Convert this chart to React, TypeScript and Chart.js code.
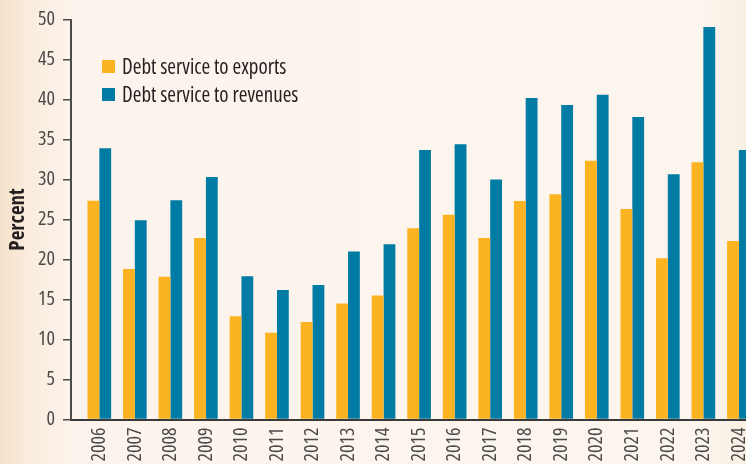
import React, { useEffect, useRef } from "react";
import { Chart, registerables } from "chart.js";

Chart.register(...registerables);

const years = [2006, 2007, 2008, 2009, 2010, 2011, 2012, 2013, 2014, 2015, 2016, 2017, 2018, 2019, 2020, 2021, 2022, 2023, 2024];
const toExports = [27.35, 18.8, 17.85, 22.7, 12.9, 10.85, 12.2, 14.5, 15.5, 23.9, 25.6, 22.7, 27.3, 28.15, 32.35, 26.3, 20.15, 32.15, 22.3];
const toRevenues = [33.9, 24.9, 27.4, 30.3, 17.9, 16.2, 16.8, 21.0, 21.9, 33.7, 34.4, 30.0, 40.2, 39.3, 40.6, 37.8, 30.65, 49.05, 33.7];
const seriesNames = ["Debt service to exports", "Debt service to revenues"];
const yTicks = [0, 5, 10, 15, 20, 25, 30, 35, 40, 45, 50];

const ORANGE = "#fbb321";
const BLUE = "#007ba3";
const FONT = "'Open Sans', 'DejaVu Sans Condensed', sans-serif";

export default function App() {
  const ref = useRef<HTMLCanvasElement | null>(null);

  useEffect(() => {
    if (!ref.current) return;
    const chart = new Chart(ref.current, {
      type: "bar",
      data: {
        datasets: [
          {
            label: seriesNames[0],
            data: years.map((x, i) => ({ x, y: toExports[i] })),
            backgroundColor: ORANGE,
            borderWidth: 0,
            categoryPercentage: 0.665,
            barPercentage: 1,
          },
          {
            label: seriesNames[1],
            data: years.map((x, i) => ({ x, y: toRevenues[i] })),
            backgroundColor: BLUE,
            borderWidth: 0,
            categoryPercentage: 0.665,
            barPercentage: 1,
          },
        ],
      },
      options: {
        responsive: true,
        maintainAspectRatio: false,
        animation: false,
        layout: { padding: { top: 19.5, left: 0, right: 0, bottom: 0 } },
        plugins: {
          legend: { display: false },
          tooltip: { enabled: false },
        },
        scales: {
          x: {
            type: "linear",
            offset: false,
            min: 2005.203,
            max: 2024.2,
            grid: { display: false, drawTicks: false, offset: false },
            border: { display: true, color: "#3a3a3a", width: 2 },
            afterBuildTicks: (scale: any) => {
              scale.ticks = years.map((v) => ({ value: v }));
            },
            afterFit: (scale: any) => {
              scale.height = 44.5;
              scale.paddingLeft = 0;
              scale.paddingRight = 0;
            },
            ticks: {
              autoSkip: false,
              minRotation: 90,
              maxRotation: 90,
              padding: 8,
              color: "#4a4a4a",
              font: { family: FONT, size: 20, weight: "condensed" as any },
              callback: (v: any) => String(v),
            },
          },
          y: {
            min: 0,
            max: 50,
            afterBuildTicks: (scale: any) => {
              scale.ticks = yTicks.map((v) => ({ value: v }));
            },
            afterFit: (scale: any) => {
              scale.width = 71;
              scale.paddingTop = 0;
              scale.paddingBottom = 0;
            },
            grid: {
              drawOnChartArea: false,
              drawTicks: true,
              tickLength: 8,
              color: "#4a4a4a",
              lineWidth: 1.5,
            },
            border: { display: true, color: "#4a4a4a", width: 2 },
            ticks: {
              padding: 8,
              color: "#4a4a4a",
              font: { family: FONT, size: 20, weight: "condensed" as any },
            },
            title: {
              display: true,
              text: "Percent",
              color: "#231f20",
              font: { family: FONT, size: 21, weight: "bold condensed" as any },
              padding: { top: 5, bottom: 0 },
            },
          },
        },
      },
    });
    return () => chart.destroy();
  }, []);

  const legendRow: React.CSSProperties = {
    display: "flex",
    alignItems: "center",
    height: 28,
  };
  const sq = (c: string): React.CSSProperties => ({
    width: 13.5,
    height: 13,
    background: c,
    marginRight: 7,
    flex: "0 0 auto",
  });

  return (
    <div
      style={{
        position: "fixed",
        left: 0,
        top: 0,
        width: 746,
        height: 464,
        overflow: "hidden",
        background:
          "linear-gradient(to right, #f6e2cb 0px, #faede0 35px, #fcf4ec 75px, #fcf5ee 700px, #f9efe3 746px)",
      }}
    >
      <canvas ref={ref} />
      <div
        style={{
          position: "absolute",
          left: 101.5,
          top: 52,
          fontFamily: FONT,
          fontStretch: "75%",
          fontSize: 21,
          color: "#231f20",
          lineHeight: 1,
        }}
      >
        <div style={legendRow}>
          <span style={sq(ORANGE)} />
          <span>{seriesNames[0]}</span>
        </div>
        <div style={legendRow}>
          <span style={sq(BLUE)} />
          <span>{seriesNames[1]}</span>
        </div>
      </div>
    </div>
  );
}
